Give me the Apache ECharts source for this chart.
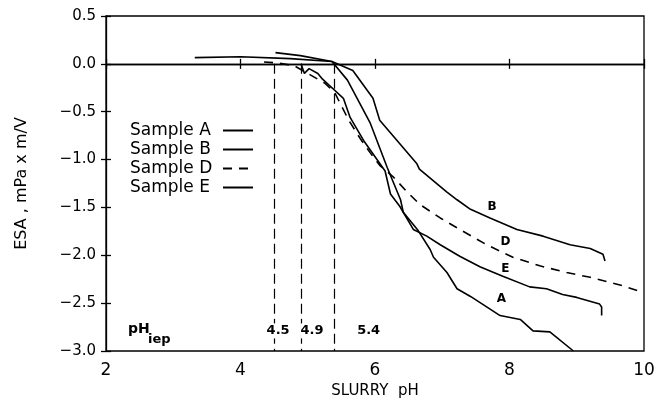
<!DOCTYPE html>
<html>
<head>
<meta charset="utf-8">
<script src="https://cdn.jsdelivr.net/npm/echarts@6/dist/echarts.min.js"></script>
<style>
  html, body { margin: 0; padding: 0; background: #fff; }
  #chart { width: 667px; height: 404px; }
</style>
</head>
<body>
<div id="chart"></div>
<script>
// ESA signal versus slurry pH for four samples
const sampleA_pH  = [3.32, 4.0, 4.74, 5.36, 5.59, 5.93, 6.18, 6.38, 6.42, 6.63, 6.82, 6.87, 7.07, 7.22, 7.42, 7.86, 8.16, 8.35, 8.6, 8.95];
const sampleA_esa = [0.065, 0.075, 0.055, 0.024, -0.17, -0.62, -1.08, -1.42, -1.55, -1.73, -1.94, -2.02, -2.18, -2.35, -2.43, -2.63, -2.67, -2.79, -2.8, -3.0];

const sampleB_pH  = [4.52, 4.89, 5.36, 5.67, 5.97, 6.07, 6.62, 6.66, 7.07, 7.22, 7.42, 7.71, 8.11, 8.5, 8.9, 9.2, 9.39, 9.42];
const sampleB_esa = [0.117, 0.086, 0.024, -0.07, -0.36, -0.59, -1.04, -1.1, -1.34, -1.42, -1.52, -1.61, -1.73, -1.8, -1.89, -1.93, -1.99, -2.06];

const sampleD_pH  = [4.35, 4.55, 4.8, 5.05, 5.25, 5.4, 5.61, 5.78, 5.93, 6.07, 6.27, 6.48, 6.67, 6.97, 7.26, 7.66, 8.05, 8.45, 8.85, 9.2, 9.69, 9.99];
const sampleD_esa = [0.02, 0.01, -0.02, -0.12, -0.2, -0.3, -0.59, -0.78, -0.93, -1.06, -1.18, -1.34, -1.47, -1.61, -1.73, -1.89, -2.02, -2.11, -2.18, -2.23, -2.32, -2.39];

const sampleE_pH  = [4.9, 4.95, 5.02, 5.15, 5.22, 5.36, 5.53, 5.63, 5.83, 6.15, 6.23, 6.37, 6.57, 6.77, 6.97, 7.26, 7.56, 7.9, 8.3, 8.55, 8.79, 9.0, 9.34, 9.37, 9.37];
const sampleE_esa = [0.0, -0.1, -0.05, -0.1, -0.16, -0.25, -0.36, -0.56, -0.8, -1.12, -1.36, -1.49, -1.73, -1.8, -1.89, -2.01, -2.12, -2.22, -2.33, -2.35, -2.41, -2.44, -2.51, -2.54, -2.63];

// letters written next to each curve
const curveTags   = ['A', 'B', 'D', 'E'];
const curveTagPH  = [7.88, 7.74, 7.94, 7.94];
const curveTagESA = [-2.46, -1.49, -1.86, -2.14];

// isoelectric points
const iepPH     = [4.5, 4.9, 5.4];
const iepLabels = ['4.5', '4.9', '5.4'];
const iepLabelESA = -2.79;

const FONT = 'DejaVu Sans';
const zip = (xs, ys) => xs.map((x, i) => [x, ys[i]]);

const chart = echarts.init(document.getElementById('chart'), null, { renderer: 'canvas' });

function sampleSeries(name, xs, ys, dash) {
  return {
    name: name,
    type: 'line',
    data: zip(xs, ys),
    showSymbol: false,
    symbol: 'none',
    lineStyle: { color: '#000', width: 1.6, type: dash },
    itemStyle: { color: '#000' },
    silent: true,
    z: 5
  };
}

const iepOffsets = [[4, 0], [11, 0], [34, 0]];

const plainLabel = {
  show: true,
  position: 'inside',
  formatter: (d) => d.name,
  fontFamily: FONT,
  fontWeight: 'bold',
  color: '#000',
  opacity: 1,
  textBorderWidth: 0,
  textShadowBlur: 0
};

const option = {
  animation: false,
  backgroundColor: '#fff',
  grid: { left: 106, right: 23, top: 16, bottom: 52, show: true, borderColor: '#000', borderWidth: 1.3 },
  legend: {
    orient: 'vertical',
    left: 125,
    top: 117,
    align: 'right',
    itemWidth: 30,
    itemHeight: 12,
    itemGap: 2,
    itemStyle: { opacity: 0 },
    formatter: (name) => '{t|' + name + '}',
    textStyle: {
      fontFamily: FONT, fontSize: 17, color: '#000',
      rich: { t: { fontFamily: FONT, fontSize: 17, color: '#000', width: 88, align: 'left' } }
    },
    data: ['Sample A', 'Sample B', 'Sample D', 'Sample E']
  },
  xAxis: [{
    type: 'value', min: 2, max: 10, interval: 2,
    name: 'SLURRY  pH', nameLocation: 'middle', nameGap: 33,
    nameTextStyle: { fontFamily: FONT, fontSize: 15, color: '#000' },
    axisLine: { show: true, lineStyle: { color: '#000', width: 1.3 } },
    axisTick: { show: true, inside: false, length: 5, lineStyle: { color: '#000', width: 1.3 } },
    axisLabel: { fontFamily: FONT, fontSize: 17, color: '#000', margin: 11 },
    splitLine: { show: false }
  }, {
    type: 'value', min: 2, max: 10, interval: 2, position: 'bottom',
    axisLine: { show: false },
    axisTick: { show: true, inside: true, length: 5, lineStyle: { color: '#000', width: 1.3 } },
    axisLabel: { show: false },
    splitLine: { show: false }
  }],
  yAxis: [{
    type: 'value', min: -3, max: 0.5, interval: 0.5,
    name: 'ESA , mPa x m/V', nameLocation: 'middle', nameGap: 76,
    nameTextStyle: { fontFamily: FONT, fontSize: 16, color: '#000' },
    axisLine: { show: true, lineStyle: { color: '#000', width: 1.3 } },
    axisTick: { show: true, inside: false, length: 5, lineStyle: { color: '#000', width: 1.3 } },
    axisLabel: {
      fontFamily: FONT, fontSize: 15, color: '#000', margin: 10,
      formatter: v => (v < 0 ? '\u2212' + Math.abs(v).toFixed(1) : v.toFixed(1))
    },
    splitLine: { show: false }
  }, {
    type: 'value', min: -3, max: 0.5, interval: 0.5, position: 'left',
    axisLine: { show: false },
    axisTick: { show: true, inside: true, length: 5, lineStyle: { color: '#000', width: 1.3 } },
    axisLabel: { show: false },
    splitLine: { show: false }
  }],
  series: [
    sampleSeries('Sample A', sampleA_pH, sampleA_esa, 'solid'),
    sampleSeries('Sample B', sampleB_pH, sampleB_esa, 'solid'),
    sampleSeries('Sample D', sampleD_pH, sampleD_esa, [9, 7]),
    sampleSeries('Sample E', sampleE_pH, sampleE_esa, 'solid'),
    {
      // zero line and isoelectric-point markers
      type: 'line',
      data: [],
      silent: true,
      markLine: {
        silent: true,
        symbol: 'none',
        label: { show: false },
        data: [
          [{ coord: [2, 0], lineStyle: { type: 'solid', width: 1.3 } }, { coord: [10, 0] }],
          ...iepPH.map(p => [{ coord: [p, 0], lineStyle: { type: [10, 5], width: 1.2 } }, { coord: [p, -3] }])
        ],
        lineStyle: { color: '#000' }
      },
      z: 3
    },
    {
      type: 'scatter',
      silent: true,
      symbolSize: 0,
      itemStyle: { color: '#000', opacity: 1 },
      data: iepPH.map((p, i) => ({ value: [p, iepLabelESA], name: iepLabels[i] })),
      label: Object.assign({}, plainLabel, { fontSize: 13, backgroundColor: '#fff', padding: [1, 0] }),
      labelLayout: (params) => {
        const o = iepOffsets[params.dataIndex];
        return { dx: o[0], dy: o[1] };
      },
      z: 6
    },
    {
      type: 'scatter',
      silent: true,
      symbolSize: 0,
      itemStyle: { color: '#000', opacity: 1 },
      data: curveTags.map((t, i) => ({ value: [curveTagPH[i], curveTagESA[i]], name: t })),
      label: Object.assign({}, plainLabel, { fontSize: 12 }),
      z: 6
    }
  ],
  graphic: [
    { type: 'text', left: 128, top: 322, style: { text: 'pH', font: 'bold 14px "DejaVu Sans"', fill: '#000' } },
    { type: 'text', left: 148, top: 333, style: { text: 'iep', font: 'bold 13px "DejaVu Sans"', fill: '#000' } }
  ]
};

chart.setOption(option);
</script>
</body>
</html>
